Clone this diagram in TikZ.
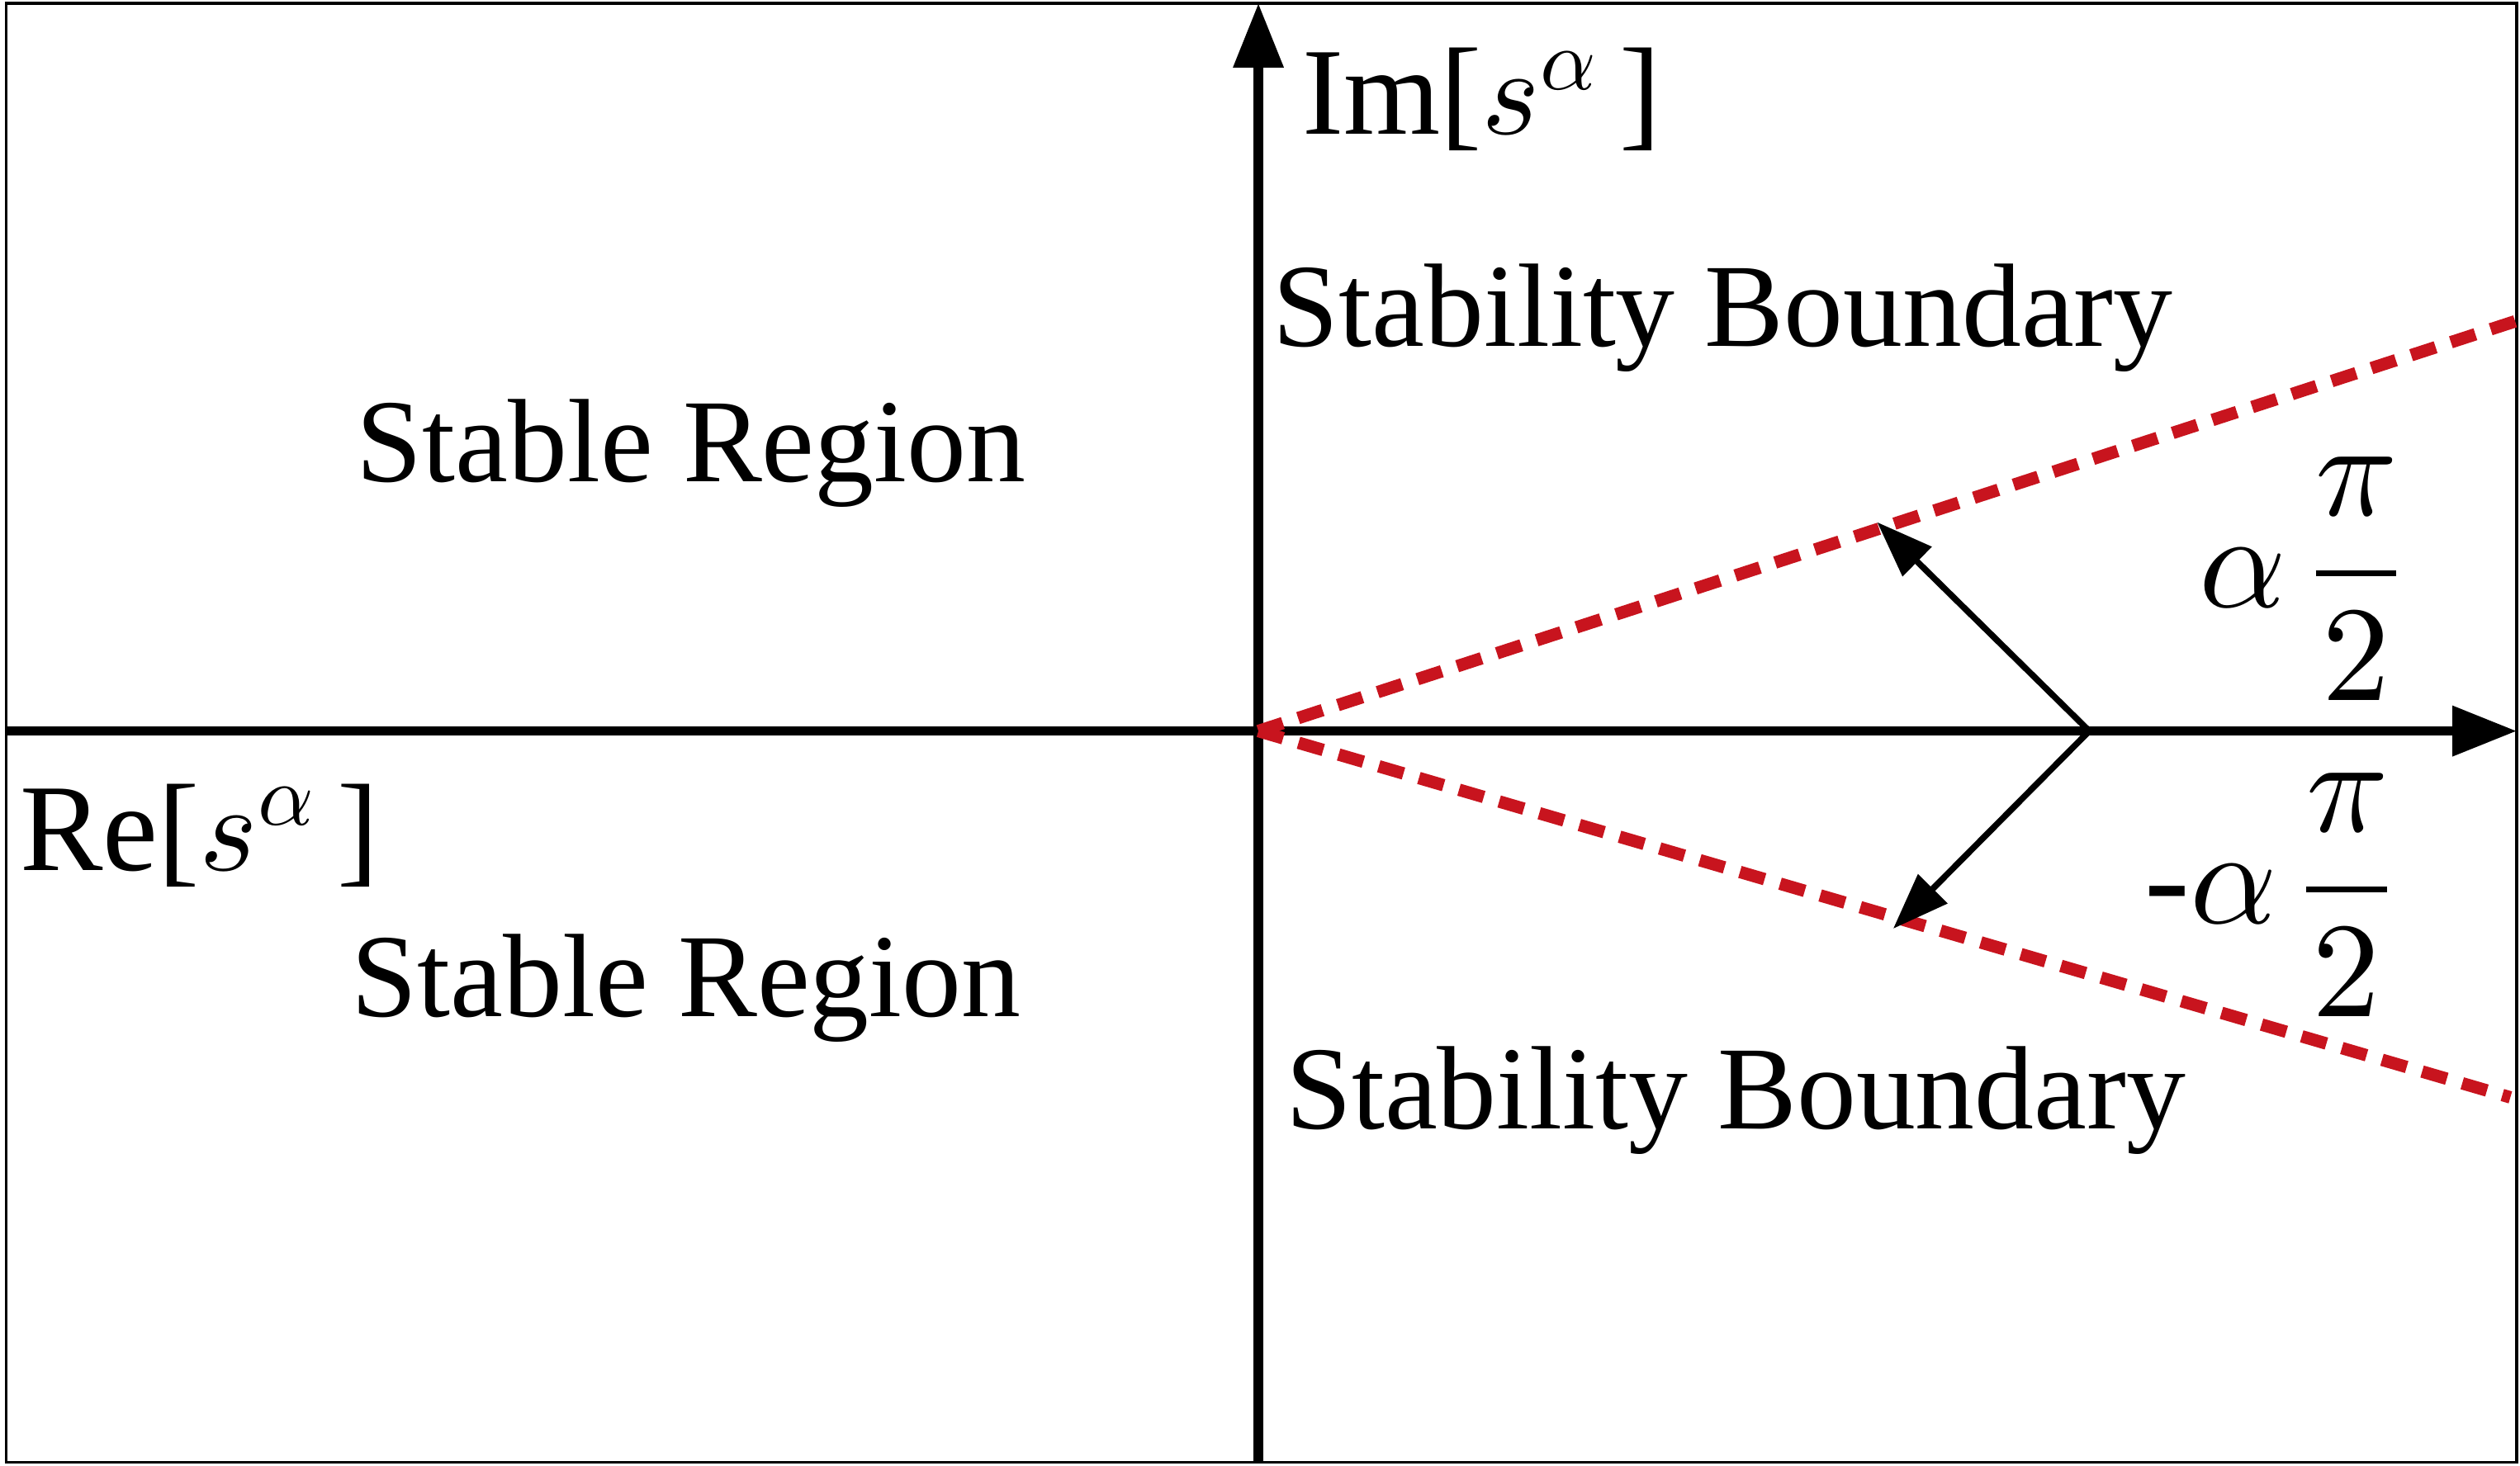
\documentclass[tikz,border=0pt]{standalone}
\usepackage{fontspec}
\usepackage{unicode-math}
\setmainfont{Liberation Serif}
\setmathfont{Latin Modern Math}
\usetikzlibrary{arrows.meta}
\definecolor{bred}{RGB}{200,20,30}
\begin{document}
\begin{tikzpicture}[x=0.01cm,y=-0.01cm,
  ax/.style={line width=1.7pt,-{Triangle[length=0.4cm,width=0.3cm]}},
  bd/.style={bred,line width=2.2pt,dash pattern=on 0.16cm off 0.1cm},
  ar/.style={line width=1.1pt,-{Triangle[length=0.35cm,width=0.25cm]}},
  lb/.style={font=\fontsize{21}{25}\selectfont},
  fr/.style={font=\fontsize{24}{28}\selectfont}]
\useasboundingbox (0,0) rectangle (1568,912);
\draw[line width=0.5pt] (4,2) rectangle (1566,910);
\coordinate (xl) at (4,455); \coordinate (xr) at (1566,455);
\coordinate (yb) at (783,910); \coordinate (yt) at (783,2);
\coordinate (o) at (783,455);
\coordinate (u) at (1568,199); \coordinate (d) at (1562,683);
\coordinate (p) at (1300,455);
\coordinate (ua) at (1168,325); \coordinate (da) at (1178,578);
\draw[ax] (xl) -- (xr);
\draw[ax] (yb) -- (yt);
\draw[bd] (o) -- (u);
\draw[bd] (o) -- (d);
\draw[ar] (p) -- (ua);
\draw[ar] (p) -- (da);
\node[lb,font=\fontsize{22}{26}\selectfont] (im) at (922,62) {Im[$s^{\alpha}$\,]};
\node[lb,font=\fontsize{22}{26}\selectfont] (re) at (124,520) {Re[$s^{\alpha}$\,]};
\node[lb] (sb1) at (1072,198) {Stability Boundary};
\node[lb] (sb2) at (1080,685) {Stability Boundary};
\node[lb] (sr1) at (430,282) {Stable Region};
\node[lb] (sr2) at (427,615) {Stable Region};
\node[fr,inner sep=0pt] (a1) at (1432,360) {$\alpha\,\dfrac{\pi}{2}$};
\node[fr,inner sep=0pt] (a2) at (1412,557) {-$\alpha\,\dfrac{\pi}{2}$};
\end{tikzpicture}
\end{document}
